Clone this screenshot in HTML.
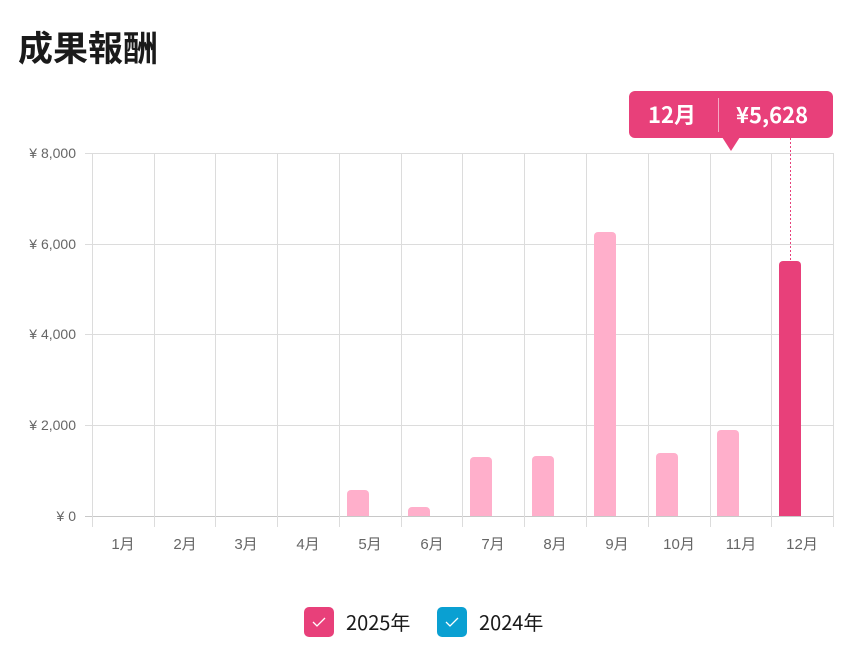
<!DOCTYPE html><html><head><meta charset="utf-8"><style>
body{margin:0;background:#fff;width:859px;height:663px;overflow:hidden;font-family:"Liberation Sans","Noto Sans CJK JP",sans-serif}
</style></head><body>
<svg width="859" height="663" xmlns="http://www.w3.org/2000/svg" style="position:absolute;left:0;top:0">
<text x="18" y="61" font-size="35" font-weight="bold" fill="#1a1a1a" font-family="Noto Sans CJK JP,sans-serif">成果報酬</text>
<g stroke="#dcdcdc" stroke-width="1">
<line x1="85" y1="153.5" x2="833" y2="153.5"/><line x1="85" y1="244.5" x2="833" y2="244.5"/><line x1="85" y1="334.5" x2="833" y2="334.5"/><line x1="85" y1="425.5" x2="833" y2="425.5"/><line x1="85" y1="516.5" x2="833" y2="516.5" stroke="#c8c8c8"/>
<line x1="92.5" y1="153" x2="92.5" y2="527"/><line x1="154.5" y1="153" x2="154.5" y2="527"/><line x1="215.5" y1="153" x2="215.5" y2="527"/><line x1="277.5" y1="153" x2="277.5" y2="527"/><line x1="339.5" y1="153" x2="339.5" y2="527"/><line x1="401.5" y1="153" x2="401.5" y2="527"/><line x1="462.5" y1="153" x2="462.5" y2="527"/><line x1="524.5" y1="153" x2="524.5" y2="527"/><line x1="586.5" y1="153" x2="586.5" y2="527"/><line x1="648.5" y1="153" x2="648.5" y2="527"/><line x1="710.5" y1="153" x2="710.5" y2="527"/><line x1="771.5" y1="153" x2="771.5" y2="527"/><line x1="833.5" y1="153" x2="833.5" y2="527"/>
</g>
<g font-size="14" fill="#666" text-anchor="end">
<text x="76" y="158">¥ 8,000</text><text x="76" y="249">¥ 6,000</text><text x="76" y="339">¥ 4,000</text><text x="76" y="430">¥ 2,000</text><text x="76" y="521">¥ 0</text>
</g>
<g font-size="15" fill="#666" text-anchor="middle" font-family="Liberation Sans,Noto Sans CJK JP,sans-serif">
<text x="123" y="549">1月</text><text x="185" y="549">2月</text><text x="246" y="549">3月</text><text x="308" y="549">4月</text><text x="370" y="549">5月</text><text x="432" y="549">6月</text><text x="493" y="549">7月</text><text x="555" y="549">8月</text><text x="617" y="549">9月</text><text x="679" y="549">10月</text><text x="741" y="549">11月</text><text x="802" y="549">12月</text>
</g>
<g fill="#ffafcb">
<path d="M347 516V494a4 4 0 0 1 4-4h14a4 4 0 0 1 4 4V516z"/>
<path d="M408 516V511a4 4 0 0 1 4-4h14a4 4 0 0 1 4 4V516z"/>
<path d="M470 516V461a4 4 0 0 1 4-4h14a4 4 0 0 1 4 4V516z"/>
<path d="M532 516V460a4 4 0 0 1 4-4h14a4 4 0 0 1 4 4V516z"/>
<path d="M594 516V236a4 4 0 0 1 4-4h14a4 4 0 0 1 4 4V516z"/>
<path d="M656 516V457a4 4 0 0 1 4-4h14a4 4 0 0 1 4 4V516z"/>
<path d="M717 516V434a4 4 0 0 1 4-4h14a4 4 0 0 1 4 4V516z"/>
</g>
<path d="M779 516V265a4 4 0 0 1 4-4h14a4 4 0 0 1 4 4V516z" fill="#e8407a"/>
<line x1="790.5" y1="138" x2="790.5" y2="261" stroke="#e8407a" stroke-dasharray="2,2"/>
<rect x="629" y="91" width="204" height="47" rx="6" fill="#e8407a"/>
<path d="M722 137L731 151L740 137z" fill="#e8407a"/>
<line x1="718.5" y1="98" x2="718.5" y2="132" stroke="#f6a8c4" stroke-width="1"/>
<g fill="#fff" font-size="22" font-weight="bold" font-family="Noto Sans CJK JP,sans-serif">
<text x="648" y="123">12月</text><text x="736" y="123">¥5,628</text>
</g>
<rect x="304" y="607" width="30" height="30" rx="5" fill="#e8407a"/>
<path d="M313 622l4 4l8-8" stroke="#fff" stroke-width="1.3" fill="none"/>
<text x="346" y="630" font-size="20" fill="#1a1a1a" font-family="Noto Sans CJK JP,sans-serif">2025年</text>
<rect x="437" y="607" width="30" height="30" rx="5" fill="#0aa0d2"/>
<path d="M446 622l4 4l8-8" stroke="#fff" stroke-width="1.3" fill="none"/>
<text x="479" y="630" font-size="20" fill="#1a1a1a" font-family="Noto Sans CJK JP,sans-serif">2024年</text>
</svg>
</body></html>
